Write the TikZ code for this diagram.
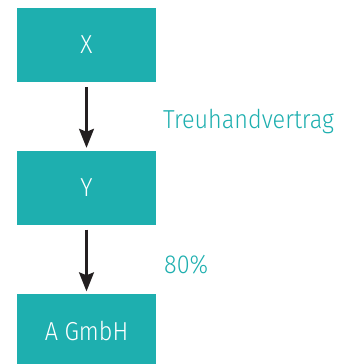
\documentclass[tikz,border=0pt]{standalone}
\usepackage{fontspec}
\setmainfont{Fira Sans Light}[FakeStretch=0.9]
\usetikzlibrary{arrows.meta}
\definecolor{teal}{HTML}{1EAFAF}
\definecolor{ink}{HTML}{231F20}
\begin{document}
\begin{tikzpicture}[x=1pt,y=1pt,
  box/.style={fill=teal,minimum width=139pt,minimum height=74pt,inner sep=0pt,text=white,font=\fontsize{26}{30}\selectfont},
  lbl/.style={text=teal,anchor=base west,inner sep=0pt,font=\fontsize{26}{30}\selectfont},
  arr/.style={draw=ink,line width=2.4pt,-{Stealth[length=19pt,width=15pt,inset=3pt]},shorten <=5pt,shorten >=2.5pt}]
\useasboundingbox (0,0) rectangle (348,-364);
\begin{scope}
\clip (0,0) rectangle (348,-364);
\node[box] (x) at (86.5,-45) {X};
\node[box] (y) at (86.5,-187.5) {Y};
\node[box] (a) at (86.5,-331) {A GmbH};
\end{scope}
\draw[arr] (x.south) -- (y.north);
\draw[arr] (y.south) -- (a.north);
\node[lbl] (t) at (163,-128) {Treuhandvertrag};
\node[lbl] (p) at (164,-273) {80\%};
\end{tikzpicture}
\end{document}
